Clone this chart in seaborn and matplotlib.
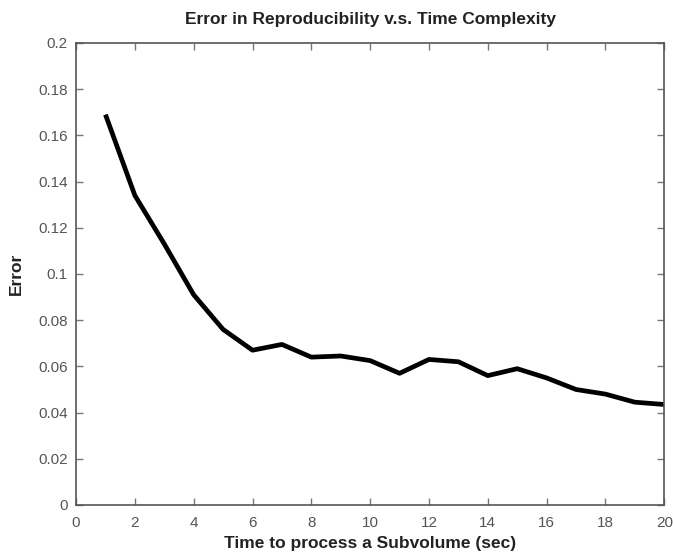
import numpy as np
import pandas as pd
import matplotlib
matplotlib.use("Agg")
import matplotlib.pyplot as plt
import seaborn as sns

# values
time_sec = [1, 2, 3, 4, 5, 6, 7, 8, 9, 10, 11, 12, 13, 14, 15, 16, 17, 18, 19, 20]
error = [0.169, 0.134, 0.113, 0.091, 0.076, 0.067, 0.0695, 0.064, 0.0645, 0.0625,
         0.057, 0.063, 0.062, 0.056, 0.059, 0.055, 0.050, 0.048, 0.0445, 0.0435]

x_ticks = list(range(0, 21, 2))
y_ticks = [0, 0.02, 0.04, 0.06, 0.08, 0.1, 0.12, 0.14, 0.16, 0.18, 0.2]
y_labels = ["0", "0.02", "0.04", "0.06", "0.08", "0.1", "0.12", "0.14", "0.16", "0.18", "0.2"]

df = pd.DataFrame({"time": time_sec, "error": error})

sns.set_style("white")
plt.rcParams["font.family"] = ["Liberation Sans", "DejaVu Sans"]

fig = plt.figure(figsize=(6.73, 5.58), dpi=100)
ax = fig.add_axes([0.113, 0.095, 0.874, 0.828])

sns.lineplot(data=df, x="time", y="error", color="black", linewidth=3.4,
             solid_joinstyle="round", solid_capstyle="butt", ax=ax)

ax.set_xlim(0, 20)
ax.set_ylim(0, 0.2)
ax.set_xticks(x_ticks)
ax.set_yticks(y_ticks)
ax.set_yticklabels(y_labels)

for s in ax.spines.values():
    s.set_color("#555555")
    s.set_linewidth(1.2)
    s.set_visible(True)

ax.tick_params(direction="in", length=5, width=1, color="#777777",
               labelcolor="#555555", labelsize=11,
               top=True, right=True, bottom=True, left=True)
ax.tick_params(axis="x", pad=8)
ax.tick_params(axis="y", pad=6)

ax.set_title("Error in Reproducibility v.s. Time Complexity",
             fontsize=12.5, fontweight="bold", color="#222222", pad=14)
ax.set_xlabel("Time to process a Subvolume (sec)", fontsize=12.5,
              fontweight="bold", color="#222222", labelpad=4)
ax.set_ylabel("Error", fontsize=12.5, fontweight="bold", color="#222222", labelpad=10)

fig.savefig("out.png", dpi=100)
